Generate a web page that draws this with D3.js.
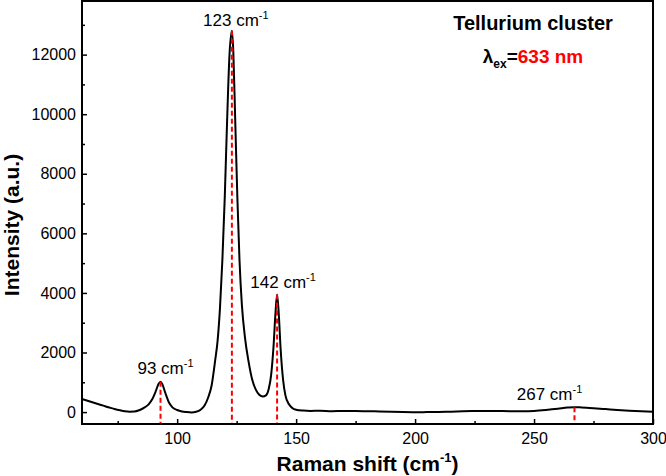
<!DOCTYPE html>
<html>
<head>
<meta charset="utf-8">
<script src="https://cdn.jsdelivr.net/npm/d3@7"></script>
<style>
  body { margin: 0; background: #fff; }
  svg text { font-family: "Liberation Sans", Arial, sans-serif; }
</style>
</head>
<body>
<div id="chart"></div>
<script>
// spectrum (Raman shift in cm-1, intensity in a.u.)
var ramanShift = [60, 62, 64, 66, 68, 70, 72, 74, 76, 78, 80, 82, 84, 86, 88, 89.5, 91, 92.2, 93, 93.8, 95, 96.5, 98, 100,
  102, 104, 106, 108, 110, 111.5, 113, 114.5, 116, 117, 118, 119, 120, 121, 122, 123, 123.6, 124.4, 125.3, 126.2, 127.2,
  128.5, 130, 131.5, 133, 134.5, 136, 137.3, 138.5, 139.5, 140.5, 141.3, 142, 142.7, 143.5, 144.5, 145.5, 147, 148.5, 150,
  153, 156, 160, 165, 170, 175, 180, 185, 190, 195, 200, 205, 210, 215, 220, 225, 230, 235, 240, 245, 250, 255, 260, 264,
  267, 270, 275, 280, 285, 290, 295, 300];
var intensity = [440, 390, 340, 290, 240, 190, 140, 95, 60, 30, 15, 20, 60, 140, 260, 430, 700, 950, 1020, 930, 650, 330, 160, 70,
  20, 0, -10, 10, 90, 220, 480, 900, 1750, 2400, 3500, 5100, 7200, 9800, 12000, 12800, 12100, 9800, 7200, 5100, 3600,
  2500, 1700, 1100, 760, 580, 520, 560, 780, 1250, 2200, 3300, 3950, 3300, 2100, 1100, 560, 260, 130, 80,
  50, 40, 45, 30, 40, 35, 30, 20, 10, 0, -5, 0, 5, 15, 25, 35, 40, 35, 30, 30, 40, 70, 110, 150,
  165, 155, 130, 100, 70, 45, 25, 10];

var peakShift = [93, 123, 142, 267];
var peakIntensity = [1020, 12800, 3950, 165];
var peakNames = ["93", "123", "142", "267"];

var xTicks = [100, 150, 200, 250, 300];
var xMinorTicks = [75, 125, 175, 225, 275];
var yTicks = [0, 2000, 4000, 6000, 8000, 10000, 12000];
var yMinorTicks = [1000, 3000, 5000, 7000, 9000, 11000, 13000];

var width = 666, height = 476;
// plot box edges (note: "top" is taken by window.top)
var boxLeft = 82, boxRight = 653, boxTop = 1, boxBottom = 424;

var svg = d3.select("#chart").append("svg")
  .attr("width", width)
  .attr("height", height);

var x = d3.scaleLinear().domain([60, 300]).range([boxLeft, boxRight]);
var y = d3.scaleLinear().domain([-400, 13800]).range([boxBottom, boxTop]);

// axes, ticks pointing inside
var xAxis = svg.append("g")
  .attr("transform", "translate(0," + boxBottom + ")")
  .call(d3.axisBottom(x).tickValues(xTicks).tickSizeInner(-5).tickSizeOuter(0).tickPadding(8.5));
var xMinor = svg.append("g")
  .attr("transform", "translate(0," + boxBottom + ")")
  .call(d3.axisBottom(x).tickValues(xMinorTicks).tickSizeInner(-3).tickSizeOuter(0).tickFormat(""));
var yAxis = svg.append("g")
  .attr("transform", "translate(" + boxLeft + ",0)")
  .call(d3.axisLeft(y).tickValues(yTicks).tickSizeInner(-5).tickSizeOuter(0).tickPadding(6).tickFormat(d3.format("d")));
var yMinor = svg.append("g")
  .attr("transform", "translate(" + boxLeft + ",0)")
  .call(d3.axisLeft(y).tickValues(yMinorTicks).tickSizeInner(-3).tickSizeOuter(0).tickFormat(""));

[xAxis, xMinor, yAxis, yMinor].forEach(function(g){
  g.select(".domain").remove();
  g.selectAll("line").attr("stroke", "#000").attr("stroke-width", 1.5);
  g.selectAll("text").attr("font-size", 16).attr("fill", "#000")
    .style("font-family", "'Liberation Sans', Arial, sans-serif");
});

// spectrum
var points = ramanShift.map(function(d, i){ return [d, intensity[i]]; });
var line = d3.line()
  .x(function(d){ return x(d[0]); })
  .y(function(d){ return y(d[1]); })
  .curve(d3.curveMonotoneX);

svg.append("path")
  .datum(points)
  .attr("d", line)
  .attr("fill", "none")
  .attr("stroke", "#000")
  .attr("stroke-width", 2)
  .attr("stroke-linejoin", "round");

// red dashed markers from each peak down to the axis
svg.selectAll(".peakLine")
  .data(peakShift)
  .enter()
  .append("line")
  .attr("class", "peakLine")
  .attr("x1", function(d){ return x(d); })
  .attr("x2", function(d){ return x(d); })
  .attr("y1", function(d, i){ return y(peakIntensity[i]); })
  .attr("y2", boxBottom)
  .attr("stroke", "#ff0000")
  .attr("stroke-width", 2)
  .attr("stroke-dasharray", "5,3");

// peak labels
var labelDx = [5, 4, 6, -25];
var labelDy = [-8, -5, -6, -7];
var labels = svg.selectAll(".peakLabel")
  .data(peakShift)
  .enter()
  .append("text")
  .attr("class", "peakLabel")
  .attr("x", function(d, i){ return x(d) + labelDx[i]; })
  .attr("y", function(d, i){ return y(peakIntensity[i]) + labelDy[i]; })
  .attr("text-anchor", "middle")
  .attr("font-size", 17)
  .attr("fill", "#000");
labels.append("tspan").text(function(d, i){ return peakNames[i] + " cm"; });
labels.append("tspan").attr("font-size", 11).attr("dy", -7).text("-1");

// frame
svg.append("rect")
  .attr("x", boxLeft)
  .attr("y", boxTop)
  .attr("width", boxRight - boxLeft)
  .attr("height", boxBottom - boxTop)
  .attr("fill", "none")
  .attr("stroke", "#000")
  .attr("stroke-width", 2);

// axis titles
var xTitle = svg.append("text")
  .attr("x", (boxLeft + boxRight) / 2)
  .attr("y", 471)
  .attr("text-anchor", "middle")
  .attr("font-size", 21)
  .attr("font-weight", "bold");
xTitle.append("tspan").text("Raman shift (cm");
xTitle.append("tspan").attr("font-size", 13).attr("dy", -9).text("-1");
xTitle.append("tspan").attr("dy", 9).text(")");

svg.append("text")
  .attr("transform", "translate(19,225) rotate(-90)")
  .attr("text-anchor", "middle")
  .attr("font-size", 21)
  .attr("font-weight", "bold")
  .text("Intensity (a.u.)");

// legend text
svg.append("text")
  .attr("x", 533)
  .attr("y", 30)
  .attr("text-anchor", "middle")
  .attr("font-size", 20)
  .attr("font-weight", "bold")
  .text("Tellurium cluster");

var lambda = svg.append("text")
  .attr("x", 533)
  .attr("y", 63)
  .attr("text-anchor", "middle")
  .attr("font-size", 19)
  .attr("font-weight", "bold");
lambda.append("tspan").text("λ");
lambda.append("tspan").attr("font-size", 12).attr("dy", 5).text("ex");
lambda.append("tspan").attr("dy", -5).text("=");
lambda.append("tspan").attr("fill", "#ff0000").text("633 nm");
</script>
</body>
</html>
